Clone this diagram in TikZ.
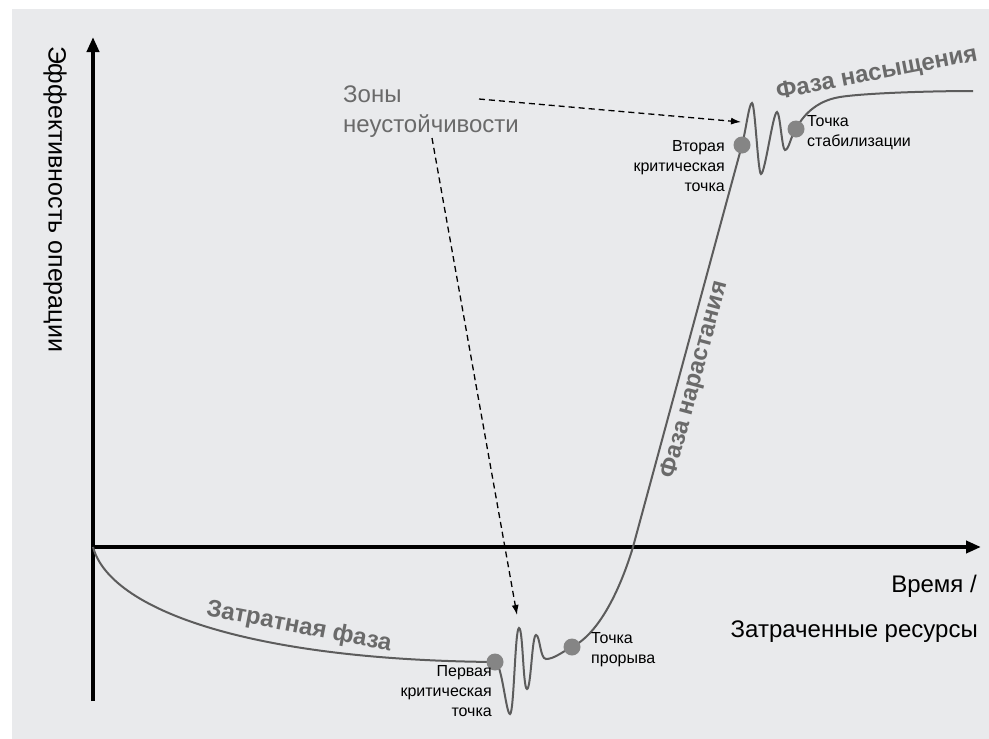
\documentclass[tikz,border=0pt]{standalone}
\usepackage{fontspec}
\setmainfont{Liberation Sans}
\usetikzlibrary{arrows.meta}
\definecolor{bggray}{HTML}{E9EAEC}
\definecolor{curvegray}{HTML}{5C5C5C}
\definecolor{txtgray}{HTML}{6A6A6A}
\definecolor{dotgray}{HTML}{858585}
\tikzset{
  axis/.style={line width=4pt,-{Triangle[length=15pt,width=12pt]}},
  curve/.style={line width=2pt,draw=curvegray},
  crit/.style={circle,fill=dotgray,minimum size=17pt,inner sep=0pt},
  note/.style={font=\fontsize{16}{20}\selectfont,inner sep=0pt},
  phase/.style={font=\bfseries\fontsize{24}{29}\selectfont,text=txtgray,inner sep=0pt},
  big/.style={font=\fontsize{24}{30}\selectfont,inner sep=0pt},
  hint/.style={line width=1.3pt,dash pattern=on 6pt off 4pt,-{Latex[length=10pt,width=7pt]}}
}
\begin{document}
\begin{tikzpicture}[x=1pt,y=-1pt]
    \fill[white] (0,0) rectangle (989,739);
    \fill[bggray] (12,9) rectangle (989,739);
    \useasboundingbox (0,0) rectangle (989,739);
    % axes
    \coordinate (o) at (93,547);
    \coordinate (ytop) at (93,37);
    \coordinate (ybot) at (93,701);
    \coordinate (xleft) at (91,547);
    \coordinate (xend) at (981,547);
    \draw[axis] (ybot) -- (ytop);
    \draw[axis] (xleft) -- (xend);
    % critical points
    \coordinate (p1) at (495,662);
    \coordinate (p2) at (572,647);
    \coordinate (p3) at (742,145);
    \coordinate (p4) at (796,129);
    \coordinate (cross) at (633,547);
    \coordinate (flat) at (840,97);
    \coordinate (tail) at (973,91);
    % the curve
    \draw[curve] (o) .. controls (110,610) and (250,660) .. (p1)
        .. controls +(7,1) and +(-4,0) .. (510,714)
        .. controls +(4,0) and +(-4,0) .. (519,628)
        .. controls +(4,0) and +(-4,0) .. (527,689)
        .. controls +(4,0) and +(-4,0) .. (536,635)
        .. controls +(4,0) and +(-6,0) .. (546,659)
        .. controls +(8,0) and +(-10,5) .. (p2)
        .. controls +(28,-14) and +(-12,40) .. (cross)
        -- (p3)
        .. controls +(4,-15) and +(-3,0) .. (752,103)
        .. controls +(3,0) and +(-3,0) .. (761,174)
        .. controls +(4,0) and +(-4,0) .. (777,112)
        .. controls +(3,0) and +(-3,0) .. (785,150)
        .. controls +(4,0) and +(-5,6) .. (p4)
        .. controls +(6,-12) and +(-25,4) .. (flat)
        .. controls +(25,-4) and +(-40,0) .. (tail);
    \node[crit] (c1) at (p1) {};
    \node[crit] (c2) at (p2) {};
    \node[crit] (c3) at (p3) {};
    \node[crit] (c4) at (p4) {};
    % point labels
    \node[note,anchor=east,align=right] (l1) at (492,691) {Первая\\критическая\\точка};
    \node[note,anchor=west,align=left] (l2) at (591,650) {Точка\\прорыва};
    \node[note,anchor=east,align=right] (l3) at (725,166) {Вторая\\критическая\\точка};
    \node[note,anchor=west,align=left] (l4) at (807,133) {Точка\\стабилизации};
    % phases
    \node[phase,rotate=-11] (ph1) at (299,627) {Затратная фаза};
    \node[phase,rotate=75] (ph2) at (695,380) {Фаза нарастания};
    \node[phase,rotate=11] (ph3) at (877,74) {Фаза насыщения};
    % unstable zones
    \node[big,text=txtgray,anchor=west,align=left] (zones) at (343,112) {Зоны\\неустойчивости};
    \coordinate (z1s) at (432,138);
    \coordinate (z1e) at (517,615);
    \coordinate (z2s) at (479,99);
    \coordinate (z2e) at (741,122);
    \draw[hint] (z1s) -- (z1e);
    \draw[hint] (z2s) -- (z2e);
    % axis labels
    \node[big,font=\fontsize{25}{30}\selectfont,rotate=-90] (ylbl) at (55,199) {Эффективность операции};
    \node[big,anchor=base east] (tlbl) at (977,592) {Время /};
    \node[big,anchor=base east] (rlbl) at (978,637) {Затраченные ресурсы};
\end{tikzpicture}
\end{document}
